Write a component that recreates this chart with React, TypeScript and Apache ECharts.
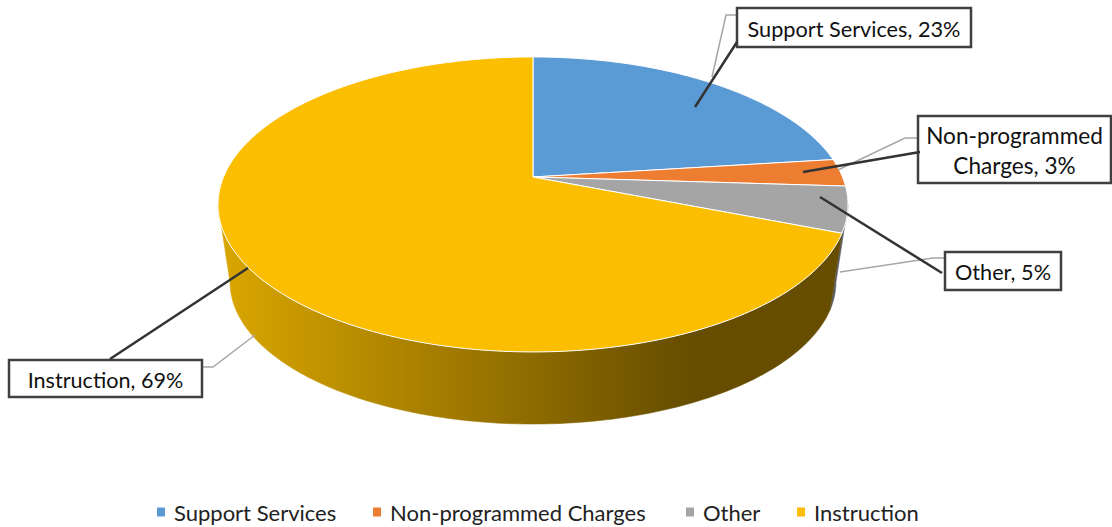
import React, { useEffect, useRef } from "react";
import * as echarts from "echarts";

const categories = ["Support Services", "Non-programmed Charges", "Other", "Instruction"];
const values = [23, 3, 5, 69];
const colors = ["#5B9BD5", "#ED7D31", "#A5A5A5", "#FBBE00"];
const wallColors = ["#2f5d87", "#8f4a1c", "#5a5f66", "#000000"];
const calloutTexts = ["Support Services, 23%", "Non-programmed\nCharges, 3%", "Other, 5%", "Instruction, 69%"];
const calloutSizes = [21.7, 22.6, 21.7, 21.6];
const legendLefts = [157, 373, 686, 797];

const FONT = "Lato";
const total = values.reduce((a, b) => a + b, 0);
const K = 0.186;
const top = { cx: 533, cy: 177, a: 309.5, b: 142.4 };
const bottom = { cx: 533, cy: 255.5, a: 297.7, b: 137.2 };
// fractions of the turn at which the wall's silhouette touches the rim (front half only)
const WALL_START = 0.28;
const WALL_END = 0.72;

function project(face: any, frac: number) {
  const t = frac * 2 * Math.PI;
  const u = Math.sin(t);
  const v = Math.cos(t);
  const d = 1 + K * v;
  return [face.cx + (face.a * u) / d, face.cy - (face.b * v) / d];
}
function arc(face: any, f0: number, f1: number) {
  const n = Math.max(4, Math.ceil((f1 - f0) * 360));
  const pts: number[][] = [];
  for (let i = 0; i <= n; i++) pts.push(project(face, f0 + ((f1 - f0) * i) / n));
  return pts;
}
function range(i: number) {
  const before = values.slice(0, i).reduce((a, b) => a + b, 0);
  return [before / total, (before + values[i]) / total];
}

const wallGradient = new echarts.graphic.LinearGradient(
  222, 0, 690, 0,
  [
    { offset: 0, color: "#D9A600" },
    { offset: 0.45, color: "#A67E00" },
    { offset: 1, color: "#664D00" },
  ],
  true
);

function wallSeries(i: number) {
  return {
    type: "custom",
    name: "wall " + categories[i],
    coordinateSystem: "none",
    silent: true,
    z: 1,
    data: [[values[i]]],
    renderItem: () => {
      const [r0, r1] = range(i);
      const f0 = Math.max(r0, WALL_START);
      const f1 = Math.min(r1, WALL_END);
      if (f1 <= f0) return null;
      const pts = arc(top, f0, f1).concat(arc(bottom, f0, f1).reverse());
      const fill = i === 3 ? wallGradient : wallColors[i];
      return { type: "polygon", shape: { points: pts }, style: { fill, stroke: fill, lineWidth: 0.5 } };
    },
  };
}
function topSeries(i: number) {
  return {
    type: "custom",
    name: categories[i],
    coordinateSystem: "none",
    silent: true,
    z: 2,
    itemStyle: { color: colors[i] },
    data: [[values[i]]],
    renderItem: () => {
      const [f0, f1] = range(i);
      const pts = [[top.cx, top.cy], ...arc(top, f0, f1)];
      return {
        type: "polygon",
        shape: { points: pts },
        style: { fill: colors[i], stroke: "#ffffff", lineWidth: 1, lineJoin: "round" },
      };
    },
  };
}

// callout geometry: [x, y, w, h], gray elbow leader, dark leader
const boxes = [
  [737, 8, 234, 39],
  [918, 116, 193, 67],
  [945, 252, 116, 38],
  [9, 360, 193, 37],
];
const grayLeaders = [
  [[737, 15], [726, 15], [712, 77]],
  [[917, 138], [905, 138], [838, 170]],
  [[945, 258], [933, 258], [840, 272]],
  [[203, 367], [213, 367], [255, 335]],
];
const darkLeaders = [
  [[737, 42], [695, 107]],
  [[920, 152], [803, 172]],
  [[942, 273], [820, 197]],
  [[110, 359], [248, 268]],
];

function buildGraphics() {
  const els: any[] = [];
  grayLeaders.forEach((points) =>
    els.push({ type: "polyline", z: 10, silent: true, shape: { points }, style: { stroke: "#A6A6A6", lineWidth: 1.5, fill: "none" } })
  );
  boxes.forEach(([x, y, w, h], i) => {
    els.push({ type: "rect", z: 11, silent: true, shape: { x, y, width: w, height: h }, style: { fill: "#fff", stroke: "#404040", lineWidth: 2.5 } });
    els.push({
      type: "text", z: 12, silent: true, x: x + w / 2, y: y + h / 2 + 1,
      style: { text: calloutTexts[i], font: `${calloutSizes[i]}px ${FONT}`, fill: "#111", align: "center", verticalAlign: "middle", lineHeight: 30 },
    });
  });
  darkLeaders.forEach((points) =>
    els.push({ type: "polyline", z: 13, silent: true, shape: { points }, style: { stroke: "#333333", lineWidth: 2.5, fill: "none" } })
  );
  return els;
}

export default function App() {
  const ref = useRef<HTMLDivElement>(null);
  useEffect(() => {
    const chart = echarts.init(ref.current!, null, { renderer: "svg" });
    chart.setOption({
      animation: false,
      backgroundColor: "#fff",
      color: colors,
      legend: categories.map((name, i) => ({
        data: [{ name, icon: "rect" }],
        left: legendLefts[i],
        top: 499,
        padding: 0,
        itemWidth: 8,
        itemHeight: 9,
        textStyle: { fontFamily: FONT, fontSize: 22, lineHeight: 26, color: "#222", padding: [0, 0, 0, 4] },
      })),
      series: [...values.map((_, i) => wallSeries(i)), ...values.map((_, i) => topSeries(i))],
      graphic: { elements: buildGraphics() },
    });
    return () => chart.dispose();
  }, []);
  return <div ref={ref} style={{ position: "fixed", left: 0, top: 0, width: 1112, height: 527 }} />;
}
